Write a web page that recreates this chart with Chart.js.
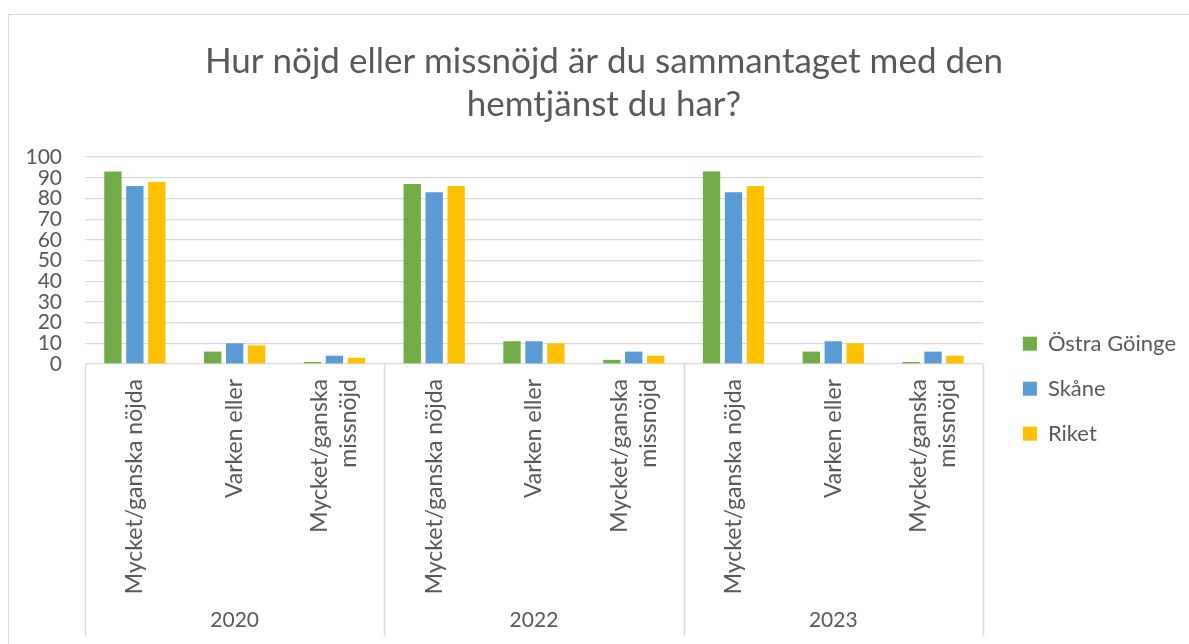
<!DOCTYPE html>
<html>
<head>
<meta charset="utf-8">
<title>Hemtjänst</title>
<script src="https://cdn.jsdelivr.net/npm/chart.js@4.4.1/dist/chart.umd.min.js"></script>
<style>
  body { margin: 0; background: #fff; overflow: hidden; }
  #wrap {
    position: absolute; left: 8px; top: 14px;
    width: 1180px; height: 630px;
    border-left: 1px solid #d9d9d9; border-top: 1px solid #d9d9d9;
  }
</style>
</head>
<body>
<div id="wrap"><canvas id="chartCanvas"></canvas></div>
<script>
  const ar = ['2020', '2022', '2023'];
  const svar = [
    ['Mycket/ganska nöjda'],
    ['Varken eller'],
    ['Mycket/ganska', 'missnöjd']
  ];
  // 9 staplar-grupper: svar x år
  const kategorier = ar.flatMap(() => svar.map(s => s.join(' ')));

  const ostraGoinge = [93, 6, 1, 87, 11, 2, 93, 6, 1];
  const skane       = [86, 10, 4, 83, 11, 6, 83, 11, 6];
  const riket       = [88, 9, 3, 86, 10, 4, 86, 10, 4];

  const titel = ['Hur nöjd eller missnöjd är du sammantaget med den', 'hemtjänst du har?'];

  const textFarg = '#595959';
  const gridFarg = '#d9d9d9';
  const typsnitt = 'Lato, Carlito, Calibri, sans-serif';

  // ritar de roterade svarsetiketterna och avdelarna mellan åren
  const kategoriPlugin = {
    id: 'kategoriAxel',
    afterLayout(chart) {
      // legenden lite längre åt höger och rubriken lite mer centrerad, som i originalet
      if (chart.legend) {
        chart.legend.left += 17;
        chart.legend.right += 17;
      }
      if (chart.titleBlock) {
        chart.titleBlock.left += 15;
        chart.titleBlock.right += 15;
      }
    },
    afterDraw(chart) {
      const ctx = chart.ctx;
      const x = chart.scales.x;
      const x2 = chart.scales.x2;
      const halv = (x2.getPixelForValue(1) - x2.getPixelForValue(0)) / 2;

      ctx.save();
      ctx.strokeStyle = gridFarg;
      ctx.lineWidth = 1.5;
      for (let i = 0; i <= ar.length; i++) {
        const px = Math.round(x2.getPixelForValue(0) - halv + i * halv * 2) + 0.5;
        ctx.beginPath();
        ctx.moveTo(px, chart.chartArea.bottom);
        ctx.lineTo(px, x2.bottom);
        ctx.stroke();
      }

      ctx.fillStyle = textFarg;
      ctx.font = '23px ' + typsnitt;
      ctx.textAlign = 'right';
      ctx.textBaseline = 'middle';
      const radH = 29;
      kategorier.forEach((_, i) => {
        const rader = svar[i % 3];
        ctx.save();
        ctx.translate(x.getPixelForValue(i), x.top + 15);
        ctx.rotate(-Math.PI / 2);
        rader.forEach((rad, j) => {
          ctx.fillText(rad, 0, (j - (rader.length - 1) / 2) * radH);
        });
        ctx.restore();
      });
      ctx.restore();
    }
  };

  const ctx = document.getElementById('chartCanvas').getContext('2d');
  window.chartInstance = new Chart(ctx, {
    type: 'bar',
    data: {
      labels: kategorier,
      datasets: [
        { label: 'Östra Göinge', data: ostraGoinge, backgroundColor: '#70ad47' },
        { label: 'Skåne', data: skane, backgroundColor: '#5b9bd5' },
        { label: 'Riket', data: riket, backgroundColor: '#ffc000' }
      ]
    },
    options: {
      responsive: true,
      maintainAspectRatio: false,
      animation: false,
      categoryPercentage: 0.66,
      barPercentage: 0.79,
      layout: { padding: { top: 0, right: 20, bottom: 9, left: 0 } },
      plugins: {
        tooltip: { enabled: false },
        title: {
          display: true,
          text: titel,
          color: textFarg,
          font: { family: typsnitt, size: 35, weight: 'normal', lineHeight: 1.23 },
          padding: { top: 25, bottom: 31 }
        },
        legend: {
          position: 'right',
          title: {
            display: true,
            text: ' ',
            padding: { top: 100, bottom: 0 },
            font: { family: typsnitt, size: 22 }
          },
          labels: {
            color: textFarg,
            font: { family: typsnitt, size: 22 },
            boxWidth: 14,
            boxHeight: 14,
            padding: 23
          }
        }
      },
      scales: {
        y: {
          min: 0,
          max: 100,
          ticks: {
            stepSize: 10,
            autoSkip: false,
            color: textFarg,
            padding: 23,
            font: { family: typsnitt, size: 21 }
          },
          grid: { color: gridFarg, lineWidth: 1.3, drawTicks: false },
          border: { display: false },
          afterFit: s => { s.width = 76; }
        },
        x: {
          ticks: { display: false },
          grid: { display: false },
          border: { display: false },
          afterFit: s => { s.height = 236; }
        },
        x2: {
          type: 'category',
          labels: ar,
          offset: true,
          position: 'bottom',
          ticks: {
            color: textFarg,
            padding: 0,
            font: { family: typsnitt, size: 21 }
          },
          grid: { display: false },
          border: { display: false },
          afterFit: s => { s.height = 36; }
        }
      }
    },
    plugins: [kategoriPlugin]
  });
</script>
</body>
</html>
